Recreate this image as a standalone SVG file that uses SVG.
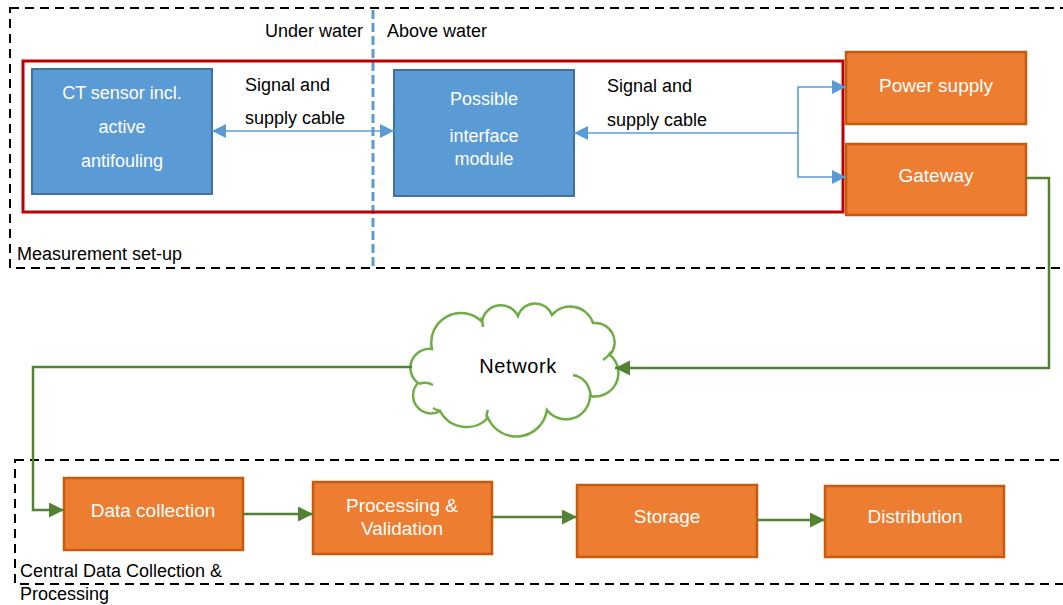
<svg xmlns="http://www.w3.org/2000/svg" width="1063" height="605" viewBox="0 0 1063 605">
<defs>
<style>
text{font-family:"Liberation Sans",Arial,sans-serif;font-size:18px;fill:#000}
.w{fill:#fff;text-anchor:middle}
.o{font-size:19px}
.grp{fill:none;stroke:#000;stroke-width:2;stroke-dasharray:9 6}
.blue{fill:#5B9BD5;stroke:#41719C;stroke-width:2}
.orange{fill:#ED7D31;stroke:#C55A11;stroke-width:2.5}
.bl{fill:none;stroke:#5B9BD5;stroke-width:1.6}
.gr{fill:none;stroke:#548235;stroke-width:2.5}
</style>
<marker id="ab" markerUnits="userSpaceOnUse" markerWidth="15" markerHeight="15" refX="14" refY="7" orient="auto-start-reverse" viewBox="0 0 15 15"><path d="M0,0 L14,7 L0,14 z" fill="#5B9BD5"/></marker>
<marker id="ag" markerUnits="userSpaceOnUse" markerWidth="16" markerHeight="16" refX="15" refY="7.5" orient="auto" viewBox="0 0 16 16"><path d="M0,0 L15,7.5 L0,15 z" fill="#548235"/></marker>
</defs>
<rect width="1063" height="605" fill="#fff"/>

<g id="group-measurement">
<rect class="grp" x="10" y="8" width="1070" height="260"/>
<text x="17" y="260">Measurement set-up</text>
</g>
<g id="group-central">
<rect class="grp" x="15" y="460" width="1070" height="124"/>
<text x="20" y="577">Central Data Collection &amp;</text>
<text x="20" y="600">Processing</text>
</g>

<g id="waterline">
<line x1="373" y1="10" x2="373" y2="268" stroke="#5B9BD5" stroke-width="3" stroke-dasharray="9 4"/>
<text x="363" y="37" text-anchor="end">Under water</text>
<text x="387" y="37">Above water</text>
</g>

<g id="redbox"><rect x="23" y="61" width="820" height="151" fill="none" stroke="#C00000" stroke-width="3"/></g>

<g id="ct-sensor">
<rect class="blue" x="32" y="69" width="180" height="125"/>
<text class="w" x="122" y="99">CT sensor incl.</text>
<text class="w" x="122" y="133">active</text>
<text class="w" x="122" y="167">antifouling</text>
</g>
<g id="interface">
<rect class="blue" x="394" y="70" width="180" height="126"/>
<text class="w" x="484" y="105">Possible</text>
<text class="w" x="484" y="142">interface</text>
<text class="w" x="484" y="165">module</text>
</g>
<g id="power">
<rect class="orange" x="846" y="52" width="180" height="72"/>
<text class="w o" x="936" y="92">Power supply</text>
</g>
<g id="gateway">
<rect class="orange" x="846" y="144" width="180" height="71"/>
<text class="w o" x="936" y="182">Gateway</text>
</g>

<g id="cloud">
<path d="M418,383 A19,19 0 0 1 432,349 A29.5,29.5 0 0 1 482,322 A19,19 0 0 1 518,316 A18,18 0 0 1 552,315 A24,24 0 0 1 593,323 A19.5,19.5 0 0 1 610,355 A23.5,23.5 0 0 1 590,396 A24,24 0 0 1 547,410 A31,31 0 0 1 488,418 A30,30 0 0 1 440,411 A18,18 0 0 1 418,383 Z" fill="#fff" stroke="#70AD47" stroke-width="2.5"/>
<path d="M419,384 Q426,381 433,385 M480,318 Q483,322 483,327 M611,352 Q608,357 603,360 M573,375 Q589,378 591,397 M487,419 Q486,414 488,410 M440,411 Q436,410 433,408" fill="none" stroke="#70AD47" stroke-width="2.5"/>
<text x="518" y="373" text-anchor="middle" style="font-size:20px;letter-spacing:0.6px">Network</text>
</g>

<g id="data-collection">
<rect class="orange" x="64" y="478" width="179" height="72"/>
<text class="w o" x="153" y="517">Data collection</text>
</g>
<g id="processing">
<rect class="orange" x="313" y="482" width="179" height="72"/>
<text class="w o" x="402" y="512">Processing &amp;</text>
<text class="w o" x="402" y="535">Validation</text>
</g>
<g id="storage">
<rect class="orange" x="577" y="485" width="180" height="72"/>
<text class="w o" x="667" y="523">Storage</text>
</g>
<g id="distribution">
<rect class="orange" x="825" y="486" width="179" height="71"/>
<text class="w o" x="915" y="523">Distribution</text>
</g>

<g id="connectors">
<line class="bl" x1="212" y1="131" x2="394" y2="131" marker-start="url(#ab)" marker-end="url(#ab)"/>
<text x="245" y="91">Signal and</text>
<text x="245" y="124">supply cable</text>
<line class="bl" x1="798" y1="133" x2="574" y2="133" marker-end="url(#ab)"/>
<polyline class="bl" points="798,133 798,87 846,87" marker-end="url(#ab)"/>
<polyline class="bl" points="798,133 798,177 846,177" marker-end="url(#ab)"/>
<text x="607" y="92">Signal and</text>
<text x="607" y="126">supply cable</text>
<polyline class="gr" points="1026,178 1049,178 1049,368 615,368" marker-end="url(#ag)"/>
<polyline class="gr" points="412,367 33,367 33,510 64,510" marker-end="url(#ag)"/>
<line class="gr" x1="243" y1="514" x2="313" y2="514" marker-end="url(#ag)"/>
<line class="gr" x1="492" y1="517" x2="577" y2="517" marker-end="url(#ag)"/>
<line class="gr" x1="757" y1="520" x2="825" y2="520" marker-end="url(#ag)"/>
</g>
</svg>
